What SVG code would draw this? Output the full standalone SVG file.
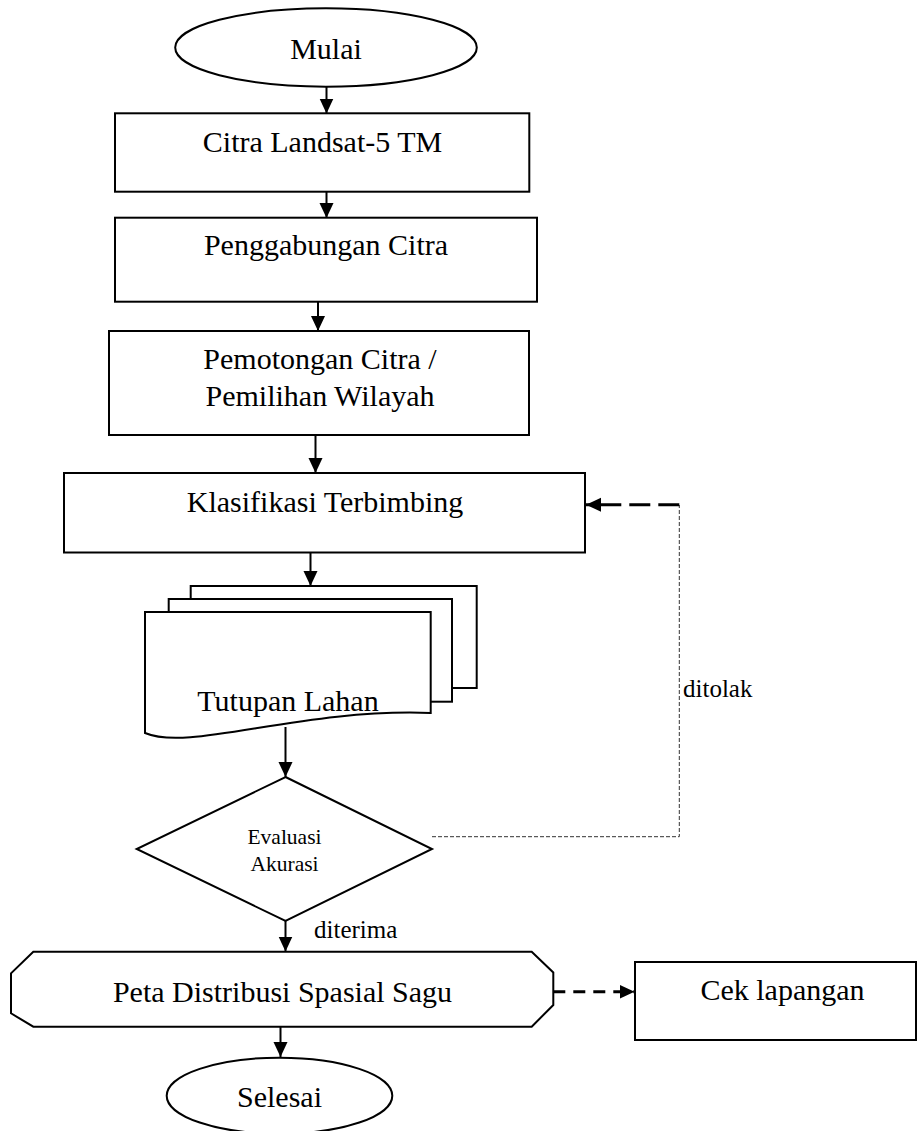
<svg xmlns="http://www.w3.org/2000/svg" width="917" height="1131" viewBox="0 0 917 1131">
<style>
.shape{fill:#fff;stroke:#000;stroke-width:2}
.t{font-family:"Liberation Serif","Times New Roman",serif;font-size:30px;fill:#000;text-anchor:middle}
.s{font-size:25px;text-anchor:start}
.d{font-size:21.5px}
.ln{fill:none;stroke:#000;stroke-width:2}
.thin{fill:none;stroke:#333;stroke-width:1;stroke-dasharray:4 2}
.thick{fill:none;stroke:#000;stroke-width:3}
</style>
<defs>
<marker id="arr" markerUnits="userSpaceOnUse" markerWidth="16" markerHeight="16" viewBox="0 0 16 16" refX="15" refY="8" orient="auto">
<path d="M0,1 L15,8 L0,15 Z" fill="#000"/>
</marker>
</defs>
<rect width="917" height="1131" fill="#fff"/>

<g id="mulai">
<ellipse class="shape" cx="326" cy="47.5" rx="150.8" ry="39.2"/>
<text class="t" x="326" y="59">Mulai</text>
</g>
<g id="citra-landsat">
<rect class="shape" x="115" y="113.3" width="414.3" height="78.4"/>
<text class="t" x="322.5" y="152">Citra Landsat-5 TM</text>
</g>
<g id="penggabungan">
<rect class="shape" x="115" y="217.7" width="422" height="84"/>
<text class="t" x="326" y="255">Penggabungan Citra</text>
</g>
<g id="pemotongan">
<rect class="shape" x="109" y="331" width="420" height="104"/>
<text class="t" x="320" y="369">Pemotongan Citra /</text>
<text class="t" x="320" y="406">Pemilihan Wilayah</text>
</g>
<g id="klasifikasi">
<rect class="shape" x="64" y="473" width="521" height="79.5"/>
<text class="t" x="325" y="512">Klasifikasi Terbimbing</text>
</g>
<g id="tutupan-lahan">
<rect class="shape" x="190.7" y="586" width="286" height="102"/>
<rect class="shape" x="168.7" y="599" width="283.3" height="102.7"/>
<path class="shape" d="M145,612 H430.7 V713 C300,708 190,752 145,733 Z"/>
<text class="t" x="288" y="711">Tutupan Lahan</text>
</g>
<g id="evaluasi">
<polygon class="shape" points="285.5,777 432,849 285.5,921 136.7,849"/>
<text class="t d" x="284.5" y="844">Evaluasi</text>
<text class="t d" x="284.5" y="871">Akurasi</text>
</g>
<g id="peta">
<polygon class="shape" points="33.3,951.7 531.7,951.7 553.3,972.5 553.3,1005 531.7,1026.7 33.3,1026.7 11,1013.3 11,973.3"/>
<text class="t" x="282.5" y="1002">Peta Distribusi Spasial Sagu</text>
</g>
<g id="cek-lapangan">
<rect class="shape" x="635" y="962" width="281" height="78"/>
<text class="t" x="782.5" y="1000">Cek lapangan</text>
</g>
<g id="selesai">
<ellipse class="shape" cx="279.5" cy="1095.7" rx="112.8" ry="38"/>
<text class="t" x="279.5" y="1107">Selesai</text>
</g>

<g id="connectors">
<line class="ln" x1="326.5" y1="87" x2="326.5" y2="113.5" marker-end="url(#arr)"/>
<line class="ln" x1="326.5" y1="192" x2="326.5" y2="218" marker-end="url(#arr)"/>
<line class="ln" x1="318" y1="302" x2="318" y2="331" marker-end="url(#arr)"/>
<line class="ln" x1="315.5" y1="435" x2="315.5" y2="473" marker-end="url(#arr)"/>
<line class="ln" x1="310.5" y1="552.5" x2="310.5" y2="586" marker-end="url(#arr)"/>
<line class="ln" x1="285.5" y1="727" x2="285.5" y2="777" marker-end="url(#arr)"/>
<line class="ln" x1="285.5" y1="921" x2="285.5" y2="951.5" marker-end="url(#arr)"/>
<line class="ln" x1="280.5" y1="1026.7" x2="280.5" y2="1057" marker-end="url(#arr)"/>
<path class="thin" d="M432,836.7 H679.3 V505"/>
<path class="thick" d="M679.3,504.7 H586" stroke-dasharray="21 8" marker-end="url(#arr)"/>
<path class="thick" d="M553.3,991.7 H634.5" stroke-dasharray="12 8" marker-end="url(#arr)"/>
<text class="t s" x="314" y="938">diterima</text>
<text class="t s" x="683" y="697">ditolak</text>
</g>
</svg>
